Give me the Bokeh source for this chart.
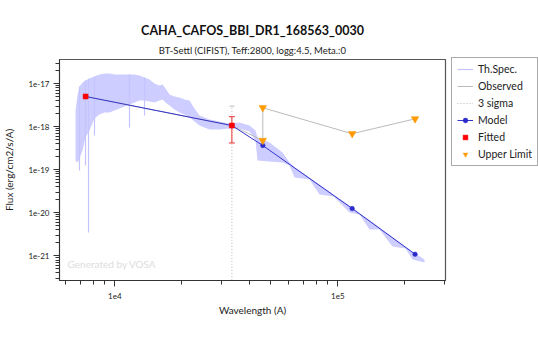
from bokeh.plotting import figure
from bokeh.models import FixedTicker, Legend, LegendItem, Label, Title
from bokeh.embed import file_html
from bokeh.resources import INLINE

title_text = "CAHA_CAFOS_BBI_DR1_168563_0030"
subtitle_text = "BT-Settl (CIFIST), Teff:2800, logg:4.5, Meta.:0"
x_label = "Wavelength (A)"
y_label = "Flux (erg/cm2/s/A)"

# Theoretical spectrum envelope (wavelength A, upper / lower flux)
spec_wave = [6665, 6803, 6944, 7165, 7390, 7702, 8110, 8538, 8989, 9467, 9970,
             10498, 11054, 11638, 12258, 12908, 13591, 14309, 15066, 15863,
             16363, 16880, 17591, 18522, 19502, 20540, 21627, 22771, 23976,
             26586, 29484, 32681, 36243, 40180, 42740, 43640, 49400,
             56490, 60740, 63960, 74660, 82780, 95660, 112870, 125130,
             138760, 153800, 175900, 201200, 216300, 244800]
spec_upper = [2.39e-18, 5.35e-18, 8.65e-18, 1.07e-17, 1.19e-17, 1.33e-17, 1.48e-17,
              1.645e-17, 1.74e-17, 1.74e-17, 1.645e-17, 1.645e-17, 1.645e-17,
              1.645e-17, 1.645e-17, 1.56e-17, 1.40e-17, 1.26e-17, 1.02e-17,
              9.13e-18, 9.63e-18, 7.78e-18, 5.64e-18, 5.07e-18, 4.80e-18, 4.31e-18,
              4.09e-18, 2.67e-18, 1.83e-18, 1.48e-18, 1.33e-18, 1.19e-18, 1.26e-18,
              1.07e-18, 8.20e-19, 5.64e-19, 4.31e-19,
              2.53e-19, 1.48e-19, 1.16e-19, 6.62e-20, 4.55e-20, 2.67e-20, 1.48e-20,
              9.89e-21, 6.80e-21, 4.55e-21, 2.74e-21, 1.64e-21, 1.26e-21, 8.20e-22]
spec_lower = [1.64e-19, 1.48e-19, 1.83e-19, 2.81e-19, 5.64e-19, 8.20e-19, 1.56e-18,
              1.93e-18, 2.15e-18, 2.15e-18, 2.39e-18, 2.67e-18, 2.96e-18, 3.30e-18,
              3.67e-18, 4.09e-18, 4.09e-18, 3.88e-18, 3.67e-18, 4.09e-18, 4.31e-18,
              3.67e-18, 3.13e-18, 2.53e-18, 2.15e-18, 1.93e-18, 1.64e-18, 1.33e-18,
              1.07e-18, 8.65e-19, 8.65e-19, 9.13e-19, 9.13e-19, 7.78e-19, 4.80e-19,
              1.64e-19, 1.56e-19,
              1.48e-19, 1.26e-19, 6.62e-20, 5.94e-20, 2.67e-20, 2.39e-20, 1.02e-20,
              9.13e-21, 4.09e-21, 4.09e-21, 1.64e-21, 1.48e-21, 8.20e-22, 6.98e-22]
# Deep absorption lines of the spectrum
spike_wave = [6944, 7390, 7624, 8110, 11638, 13591]
spike_top = [8.65e-18, 1.19e-17, 1.33e-17, 1.48e-17, 1.645e-17, 1.40e-17]
spike_bottom = [9.63e-20, 1.26e-19, 3.48e-21, 6.28e-19, 9.63e-19, 1.83e-18]

# Observed photometry
obs_wave = [7400, 33500, 46100, 46100, 116000, 222000]
obs_flux = [5.07e-18, 1.07e-18, 4.8e-19, 2.77e-18, 6.9e-19, 1.53e-18]

# Model photometry
model_wave = [7400, 33500, 46100, 116000, 222000]
model_flux = [5.07e-18, 1.07e-18, 3.67e-19, 1.26e-20, 1.09e-21]

# Fitted points with errors
fit_wave = [7400, 33500]
fit_flux = [5.07e-18, 1.07e-18]
fit_err = [0.05e-18, 0.65e-18]

# 3 sigma range
sig_wave = [33500]
sig_top = [3.02e-18]
sig_bottom = [1e-24]

# Upper limits
ul_wave = [46100, 46100, 116000, 222000]
ul_flux = [2.77e-18, 4.8e-19, 6.9e-19, 1.53e-18]

y_major = [1e-21, 1e-20, 1e-19, 1e-18, 1e-17]
y_labels = ["1e-21", "1e-20", "1e-19", "1e-18", "1e-17"]
x_major = [1e4, 1e5]
x_labels = ["1e4", "1e5"]

FONT = "Lato"
SPEC_C = "#c4c4ff"

p = figure(x_axis_type="log", y_axis_type="log",
           x_range=(5650, 304000), y_range=(2.67e-22, 3.67e-17),
           output_backend="svg", toolbar_location=None,
           min_border_left=52, min_border_right=90, min_border_top=59, min_border_bottom=51)
p.frame_width = 386
p.frame_height = 221
p.xgrid.visible = False
p.ygrid.visible = False
p.outline_line_color = "#555555"
p.outline_line_width = 1.2
p.background_fill_color = "white"
p.border_fill_color = "white"

# spectrum
p.varea(x=spec_wave, y1=spec_lower, y2=spec_upper, fill_color=SPEC_C, fill_alpha=0.85)
spec_r = p.segment(x0=spike_wave, y0=spike_bottom, x1=spike_wave, y1=spike_top,
                   line_color=SPEC_C, line_width=1.2)

# 3 sigma
sig_r = p.segment(x0=sig_wave, y0=sig_bottom, x1=sig_wave, y1=sig_top,
                  line_color="#bbbbbb", line_dash="1 2", line_width=1)
p.scatter(x=sig_wave, y=sig_top, marker="dash", size=5, line_color="#bbbbbb")

# observed
obs_r = p.line(x=obs_wave, y=obs_flux, line_color="#bbbbbb", line_width=1)

# model
model_l = p.line(x=model_wave, y=model_flux, line_color="#3333cc", line_width=1)
model_s = p.scatter(x=model_wave, y=model_flux, marker="circle", size=4.5,
                    fill_color="#2a2acc", line_color="#2a2acc", line_width=0.5)

# upper limits
ul_r = p.scatter(x=ul_wave, y=ul_flux, marker="inverted_triangle", size=7.5,
                 fill_color="#ff9a00", line_color="#ff9a00", line_width=0.5)

# fitted
lo = [f - e for f, e in zip(fit_flux, fit_err)]
hi = [f + e for f, e in zip(fit_flux, fit_err)]
p.segment(x0=fit_wave, y0=lo, x1=fit_wave, y1=hi, line_color="#ee3333", line_width=1)
p.scatter(x=fit_wave[1:], y=lo[1:], marker="dash", size=6, line_color="#ee3333")
p.scatter(x=fit_wave[1:], y=hi[1:], marker="dash", size=6, line_color="#ee3333")
fit_r = p.scatter(x=fit_wave, y=fit_flux, marker="square", size=5,
                  fill_color="#ff0000", line_color="#ff0000", line_width=0.5)

# watermark
p.add_layout(Label(x=6140, y=4.6e-22, text="Generated by VOSA", text_font=FONT,
                   text_font_size="10px", text_color="#dddddd"))

# axes
p.xaxis.ticker = FixedTicker(ticks=x_major,
                             minor_ticks=[k * 10 ** n for n in (3, 4, 5) for k in range(2, 10)])
p.yaxis.ticker = FixedTicker(ticks=y_major,
                             minor_ticks=[k * 10.0 ** n for n in range(-23, -16) for k in range(2, 10)])
p.xaxis.major_label_overrides = {v: l for v, l in zip(x_major, x_labels)}
p.yaxis.major_label_overrides = {v: l for v, l in zip(y_major, y_labels)}
for ax in (p.xaxis[0], p.yaxis[0]):
    ax.axis_line_color = "#333333"
    ax.major_tick_line_color = "#333333"
    ax.minor_tick_line_color = "#333333"
    ax.major_tick_out = 6
    ax.major_tick_in = 0
    ax.minor_tick_out = 4
    ax.minor_tick_in = 0
    ax.major_label_text_font = FONT
    ax.major_label_text_font_size = "8px"
    ax.major_label_text_color = "#222222"
    ax.axis_label_text_font = FONT
    ax.axis_label_text_font_size = "10px"
    ax.axis_label_text_font_style = "normal"
    ax.axis_label_text_color = "#222222"
p.xaxis.axis_label = x_label
p.yaxis.axis_label = y_label
p.xaxis.major_label_standoff = 6
p.xaxis.axis_label_standoff = 2
p.yaxis.major_label_standoff = 4
p.yaxis.axis_label_standoff = 10

# titles
p.add_layout(Title(text=subtitle_text, align="center", text_font=FONT,
                   text_font_size="9.5px", text_font_style="normal",
                   text_color="#222222", standoff=8, offset=-6), "above")
p.add_layout(Title(text=title_text, align="center", text_font=FONT,
                   text_font_size="12.5px", text_font_style="bold",
                   text_color="#111111", standoff=2, offset=-6), "above")

# legend
legend = Legend(items=[
    LegendItem(label="Th.Spec.", renderers=[spec_r]),
    LegendItem(label="Observed", renderers=[obs_r]),
    LegendItem(label="3 sigma", renderers=[sig_r]),
    LegendItem(label="Model", renderers=[model_l, model_s]),
    LegendItem(label="Fitted", renderers=[fit_r]),
    LegendItem(label="Upper Limit", renderers=[ul_r]),
], location=(6, 114))
legend.label_text_font = FONT
legend.label_text_font_size = "10.5px"
legend.label_text_color = "#222222"
legend.glyph_width = 16
legend.glyph_height = 12
legend.label_height = 12
legend.label_standoff = 5
legend.spacing = 5
legend.padding = 5
legend.margin = 0
legend.border_line_color = "#555555"
legend.border_line_width = 1.2
legend.background_fill_alpha = 1
p.add_layout(legend, "right")

open("out.html", "w").write(file_html(p, INLINE))
